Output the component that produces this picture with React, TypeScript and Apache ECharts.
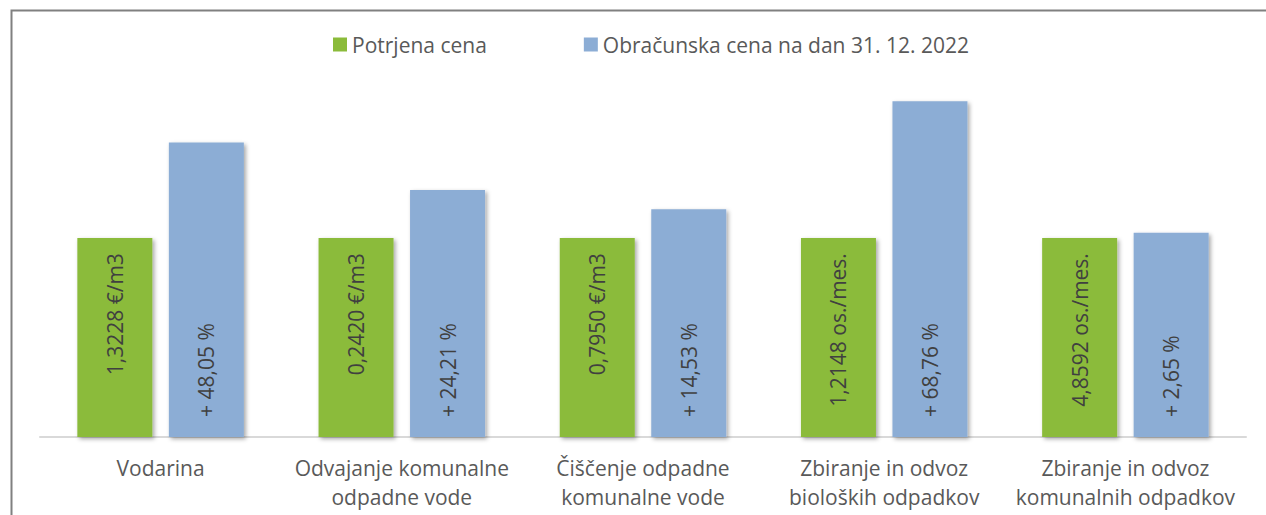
import React, { useEffect, useRef } from "react";
import * as echarts from "echarts";

const categories = [
  "Vodarina",
  "Odvajanje komunalne\nodpadne vode",
  "Čiščenje odpadne\nkomunalne vode",
  "Zbiranje in odvoz\nbioloških odpadkov",
  "Zbiranje in odvoz\nkomunalnih odpadkov",
];
const confirmedIndex = [100, 100, 100, 100, 100];
const confirmedLabels = ["1,3228 €/m3", "0,2420 €/m3", "0,7950 €/m3", "1,2148 os./mes.", "4,8592 os./mes."];
const calculatedIndex = [148.05, 124.21, 114.53, 168.76, 102.65];
const seriesNames = ["Potrjena cena", "Obračunska cena na dan 31. 12. 2022"];

const FONT = "'Open Sans', 'Noto Sans', sans-serif";
const FS = 21;
const FW = 400;

export default function App() {
  const ref = useRef<HTMLDivElement>(null);
  useEffect(() => {
    if (!ref.current) return;
    const chart = echarts.init(ref.current, null, { renderer: "svg" });
    const shadow = {
      shadowBlur: 4,
      shadowColor: "rgba(0,0,0,0.35)",
      shadowOffsetX: 2,
      shadowOffsetY: 2,
    };
    const labelBase = {
      show: true,
      rotate: 90,
      verticalAlign: "middle",
      fontFamily: FONT,
      fontSize: FS,
      fontWeight: FW,
      color: "#404040",
    };
    chart.setOption({
      animation: false,
      backgroundColor: "#ffffff",
      graphic: [
        {
          type: "rect",
          shape: { x: 11.5, y: 10.5, width: 1400, height: 700 },
          style: { fill: "none", stroke: "#808080", lineWidth: 2 },
          silent: true,
        },
      ],
      legend: {
        left: 328,
        top: 29,
        itemWidth: 14,
        itemHeight: 14,
        itemGap: 97,
        icon: "rect",
        textStyle: { fontFamily: FONT, fontSize: FS, fontWeight: FW, color: "#595959" },
        data: seriesNames,
      },
      grid: { left: 40, right: 20, top: 79, bottom: 78 },
      xAxis: {
        type: "category",
        data: categories,
        axisTick: { show: false },
        axisLine: { lineStyle: { color: "#d9d9d9", width: 2 } },
        axisLabel: {
          fontFamily: FONT,
          fontSize: FS,
          fontWeight: FW,
          lineHeight: 29,
          color: "#595959",
          margin: 16,
          interval: 0,
        },
      },
      yAxis: {
        type: "value",
        min: 0,
        max: 180,
        show: false,
        splitLine: { show: false },
      },
      series: [
        {
          name: seriesNames[0],
          type: "bar",
          data: confirmedIndex,
          barWidth: 75,
          barGap: "22%",
          itemStyle: { color: "#8bbb3a", ...shadow },
          label: {
            ...labelBase,
            position: "insideTop",
            distance: 15,
            align: "right",
            formatter: (p: any) => confirmedLabels[p.dataIndex],
          },
        },
        {
          name: seriesNames[1],
          type: "bar",
          data: calculatedIndex,
          barWidth: 75,
          barGap: "22%",
          itemStyle: { color: "#8cadd5", ...shadow },
          label: {
            ...labelBase,
            position: "insideBottom",
            distance: 20,
            align: "left",
            formatter: (p: any) =>
              "+ " + (p.value - 100).toFixed(2).replace(".", ",") + " %",
          },
        },
      ],
    });
    return () => chart.dispose();
  }, []);
  return (
    <div
      ref={ref}
      style={{ position: "fixed", left: 0, top: 0, width: 1266, height: 515 }}
    />
  );
}
